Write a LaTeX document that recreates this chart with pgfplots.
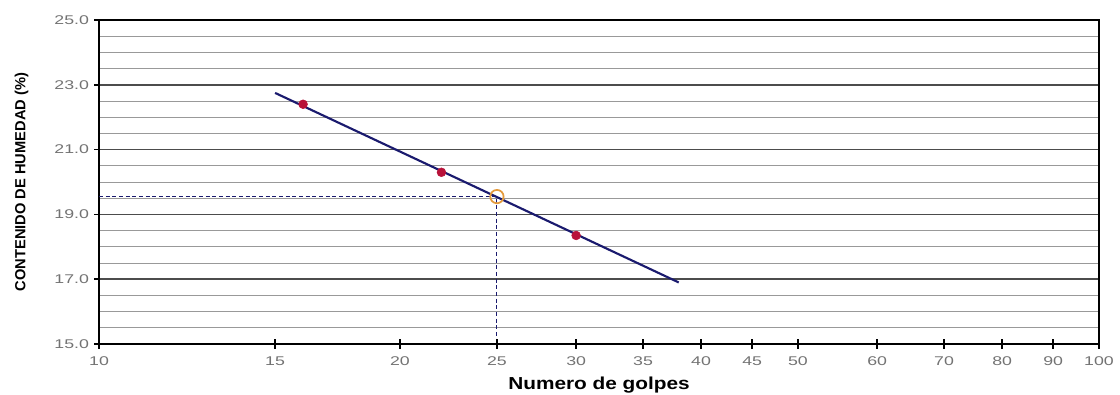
\documentclass[border=0pt]{standalone}
\usepackage{fontspec}
\setmainfont{Liberation Sans}
\newfontfamily\tickfont[FakeStretch=1.4]{Liberation Sans}
\newfontfamily\labfont[FakeStretch=1.2]{Liberation Sans}
\usepackage{pgfplots}
\pgfplotsset{compat=1.18}
\definecolor{navyline}{HTML}{1A1A6E}
\definecolor{ptred}{HTML}{B8123A}
\definecolor{ptorange}{HTML}{E49A3C}
\begin{document}
\begin{tikzpicture}
\useasboundingbox (-74.25pt,-37.5pt) rectangle (765.75pt,258pt);
\begin{axis}[
  at={(0,0)}, anchor=south west, scale only axis,
  width=750pt, height=243pt,
  xmode=log, log basis x=10,
  xmin=10, xmax=100, ymin=15, ymax=25,
  xtick={10,15,20,25,30,35,40,45,50,60,70,80,90,100},
  xticklabels={10,15,20,25,30,35,40,45,50,60,70,80,90,100},
  minor xtick={},
  ytick={15,17,19,21,23,25},
  minor ytick={15.5,16,16.5,17.5,18,18.5,19.5,20,20.5,21.5,22,22.5,23.5,24,24.5},
  tickwidth=0pt, subtickwidth=0pt,
  xtick pos=bottom, ytick pos=left,
  /pgf/number format/assume math mode=true,
  ticklabel style={font=\tickfont\fontsize{9.5}{10}\selectfont, text=black!55},
  xticklabel style={yshift=-6pt},
  yticklabel style={xshift=-4pt, /pgf/number format/.cd, fixed, fixed zerofill, precision=1},
  ymajorgrids, yminorgrids,
  major grid style={black!70, line width=1.1pt},
  minor grid style={black!40, line width=0.7pt},
  axis line style={line width=1.4pt},
  xlabel={\textbf{Numero de golpes}},
  ylabel={\textbf{CONTENIDO DE HUMEDAD (\%)}},
  xlabel style={font=\labfont\fontsize{13}{14}\selectfont, at={(axis description cs:0.5,0)}, anchor=center, yshift=-30.5pt},
  ylabel style={font=\fontsize{11}{12}\selectfont, at={(axis description cs:0,0.5)}, anchor=center, xshift=0pt, yshift=58pt},
  clip=false,
]
% tick marks on the x axis (crossing) and y axis
\addplot[only marks, mark=|, mark size=3.6pt, mark options={line width=1.3pt, black}] coordinates {(10,15) (15,15) (20,15) (25,15) (30,15) (35,15) (40,15) (45,15) (50,15) (60,15) (70,15) (80,15) (90,15) (100,15)};
\addplot[only marks, mark=-, mark size=2.5pt, mark options={line width=1.1pt, black, xshift=-1.5pt}] coordinates {(10,15) (10,17) (10,19) (10,21) (10,23) (10,25)};
\addplot[navyline, densely dashed, line width=0.7pt] coordinates {(10,19.55) (25,19.55) (25,15)};
\addplot[navyline, line width=1.6pt, no marks] coordinates {(15,22.75) (38,16.9)};
\addplot[only marks, mark=*, mark size=3.3pt, color=ptred, mark options={fill=ptred}] coordinates {(16,22.4) (22,20.3) (30,18.35)};
\addplot[only marks, mark=o, mark size=5pt, color=ptorange, line width=1.3pt] coordinates {(25,19.55)};
\end{axis}
\end{tikzpicture}
\end{document}
